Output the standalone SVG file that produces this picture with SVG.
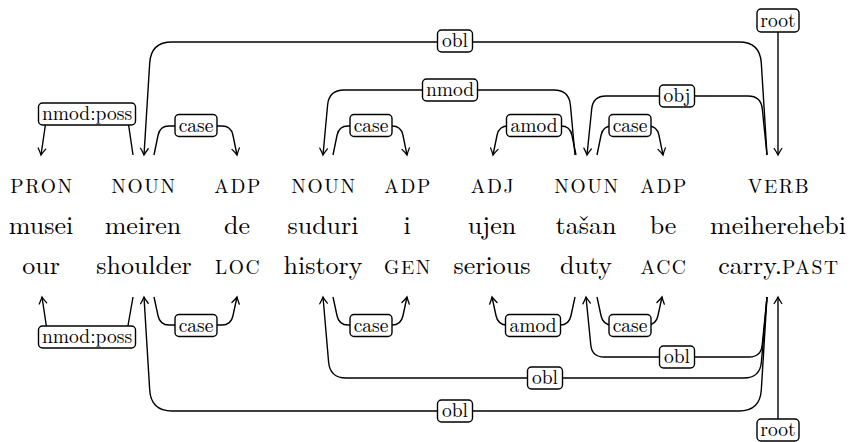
<svg xmlns="http://www.w3.org/2000/svg" width="850" height="442" viewBox="0 0 850 442">
  <style>
    .pos { font-size: 19.5px; letter-spacing: 1.6px; text-anchor: middle; fill: #000; }
    .word { font-size: 26px; text-anchor: middle; fill: #000; }
    .sc { font-size: 19.5px; letter-spacing: 1.6px; }
    .edge { fill: none; stroke: #000; stroke-width: 1.4; stroke-linejoin: round; }
    .lab rect { fill: #fff; stroke: #000; stroke-width: 1.4; }
    .lab text { font-size: 19.5px; text-anchor: middle; fill: #000; }
  </style>
  <defs>
    <marker id="arr" viewBox="-8 -5 10 10" refX="0" refY="0" markerWidth="10" markerHeight="10" markerUnits="userSpaceOnUse" orient="auto">
      <path d="M-6.5,-3.8 Q-2.2,-1 0,0 Q-2.2,1 -6.5,3.8" fill="none" stroke="#000" stroke-width="1.3" stroke-linecap="round"/>
    </marker>
  </defs>

  <rect width="850" height="442" fill="#fff"/>

  <!-- tokens: POS tag, word form, gloss -->
  <g id="w1">
    <text class="pos" x="42" y="193" style="font-family:'Latin Modern Roman','Liberation Serif',serif">PRON</text>
    <text class="word" x="41" y="234" style="font-family:'Latin Modern Roman','Liberation Serif',serif">musei</text>
    <text class="word" x="41" y="274" style="font-family:'Latin Modern Roman','Liberation Serif',serif">our</text>
  </g>
  <g id="w2">
    <text class="pos" x="144" y="193" style="font-family:'Latin Modern Roman','Liberation Serif',serif">NOUN</text>
    <text class="word" x="143" y="234" style="font-family:'Latin Modern Roman','Liberation Serif',serif">meiren</text>
    <text class="word" x="144" y="274" style="font-family:'Latin Modern Roman','Liberation Serif',serif">shoulder</text>
  </g>
  <g id="w3">
    <text class="pos" x="238" y="193" style="font-family:'Latin Modern Roman','Liberation Serif',serif">ADP</text>
    <text class="word" x="237" y="234" style="font-family:'Latin Modern Roman','Liberation Serif',serif">de</text>
    <text class="word sc" x="238" y="274" style="font-family:'Latin Modern Roman','Liberation Serif',serif">LOC</text>
  </g>
  <g id="w4">
    <text class="pos" x="324" y="193" style="font-family:'Latin Modern Roman','Liberation Serif',serif">NOUN</text>
    <text class="word" x="323" y="234" style="font-family:'Latin Modern Roman','Liberation Serif',serif">suduri</text>
    <text class="word" x="323" y="274" style="font-family:'Latin Modern Roman','Liberation Serif',serif">history</text>
  </g>
  <g id="w5">
    <text class="pos" x="408" y="193" style="font-family:'Latin Modern Roman','Liberation Serif',serif">ADP</text>
    <text class="word" x="407" y="234" style="font-family:'Latin Modern Roman','Liberation Serif',serif">i</text>
    <text class="word sc" x="408" y="274" style="font-family:'Latin Modern Roman','Liberation Serif',serif">GEN</text>
  </g>
  <g id="w6">
    <text class="pos" x="493" y="193" style="font-family:'Latin Modern Roman','Liberation Serif',serif">ADJ</text>
    <text class="word" x="492" y="234" style="font-family:'Latin Modern Roman','Liberation Serif',serif">ujen</text>
    <text class="word" x="492" y="274" style="font-family:'Latin Modern Roman','Liberation Serif',serif">serious</text>
  </g>
  <g id="w7">
    <text class="pos" x="587" y="193" style="font-family:'Latin Modern Roman','Liberation Serif',serif">NOUN</text>
    <text class="word" x="586" y="234" style="font-family:'Latin Modern Roman','Liberation Serif',serif">tašan</text>
    <text class="word" x="586" y="274" style="font-family:'Latin Modern Roman','Liberation Serif',serif">duty</text>
  </g>
  <g id="w8">
    <text class="pos" x="664" y="193" style="font-family:'Latin Modern Roman','Liberation Serif',serif">ADP</text>
    <text class="word" x="663" y="234" style="font-family:'Latin Modern Roman','Liberation Serif',serif">be</text>
    <text class="word sc" x="664" y="274" style="font-family:'Latin Modern Roman','Liberation Serif',serif">ACC</text>
  </g>
  <g id="w9">
    <text class="pos" x="779" y="193" style="font-family:'Latin Modern Roman','Liberation Serif',serif">VERB</text>
    <text class="word" x="778" y="234" style="font-family:'Latin Modern Roman','Liberation Serif',serif">meiherehebi</text>
    <text class="word" x="779" y="274" style="font-family:'Latin Modern Roman','Liberation Serif',serif">carry.<tspan class="sc">PAST</tspan></text>
  </g>

  <!-- dependency arcs: above and below the sentence -->
  <g id="edges">
    <g id="e-obl-top">
      <path class="edge" marker-end="url(#arr)" d="M767,155 L761.3,63 Q760,42 739,42 L172,42 Q151,42 149.7,63 L144,155"/>
      <g class="lab"><rect x="437.5" y="30" width="35" height="22" rx="4"/><text x="455" y="47" style="font-family:'Latin Modern Roman','Liberation Serif',serif">obl</text></g>
    </g>
    <g id="e-nmod-top">
      <path class="edge" marker-end="url(#arr)" d="M575,155 L570.4,105 Q569,90 554,90 L344,90 Q329,90 327.6,105 L323,155"/>
      <g class="lab"><rect x="422.5" y="79" width="55" height="22" rx="4"/><text x="450" y="96" style="font-family:'Latin Modern Roman','Liberation Serif',serif">nmod</text></g>
    </g>
    <g id="e-obj-top">
      <path class="edge" marker-end="url(#arr)" d="M767,155 L762.3,109 Q761,96 748,96 L606,96 Q593,96 591.7,109 L587,155"/>
      <g class="lab"><rect x="659.5" y="85" width="35" height="22" rx="4"/><text x="677" y="102" style="font-family:'Latin Modern Roman','Liberation Serif',serif">obj</text></g>
    </g>
    <g id="e-nmodposs-top">
      <path class="edge" marker-end="url(#arr)" d="M133,155 L127,114 L47,114 L41,155"/>
      <g class="lab"><rect x="38.5" y="103" width="97" height="22" rx="4"/><text x="87" y="120" style="font-family:'Latin Modern Roman','Liberation Serif',serif">nmod:poss</text></g>
    </g>
    <g id="e-case1-top">
      <path class="edge" marker-end="url(#arr)" d="M154,155 L158.1,135 Q160,126 169,126 L222,126 Q231,126 232.9,135 L237,155"/>
      <g class="lab"><rect x="175" y="114.5" width="42" height="22" rx="4"/><text x="196" y="131.5" style="font-family:'Latin Modern Roman','Liberation Serif',serif">case</text></g>
    </g>
    <g id="e-case2-top">
      <path class="edge" marker-end="url(#arr)" d="M333,155 L337.1,135 Q339,126 348,126 L392,126 Q401,126 402.9,135 L407,155"/>
      <g class="lab"><rect x="350" y="114.5" width="42" height="22" rx="4"/><text x="371" y="131.5" style="font-family:'Latin Modern Roman','Liberation Serif',serif">case</text></g>
    </g>
    <g id="e-amod-top">
      <path class="edge" marker-end="url(#arr)" d="M576,155 L571.9,135 Q570,126 561,126 L508,126 Q499,126 497.1,135 L493,155"/>
      <g class="lab"><rect x="506.5" y="114.5" width="55" height="22" rx="4"/><text x="534" y="131.5" style="font-family:'Latin Modern Roman','Liberation Serif',serif">amod</text></g>
    </g>
    <g id="e-case3-top">
      <path class="edge" marker-end="url(#arr)" d="M597,155 L601.1,135 Q603,126 612,126 L648,126 Q657,126 658.9,135 L663,155"/>
      <g class="lab"><rect x="609" y="114.5" width="42" height="22" rx="4"/><text x="630" y="131.5" style="font-family:'Latin Modern Roman','Liberation Serif',serif">case</text></g>
    </g>
    <g id="e-root-top">
      <path class="edge" marker-end="url(#arr)" d="M778,32 L778,155"/>
      <g class="lab"><rect x="757" y="9" width="42" height="23" rx="4"/><text x="778" y="26.5" style="font-family:'Latin Modern Roman','Liberation Serif',serif">root</text></g>
    </g>

    <g id="e-obl1-bot">
      <path class="edge" marker-end="url(#arr)" d="M767,297 L761.3,390 Q760,411 739,411 L172,411 Q151,411 149.7,390 L144,297"/>
      <g class="lab"><rect x="437.5" y="400" width="35" height="22" rx="4"/><text x="455" y="417" style="font-family:'Latin Modern Roman','Liberation Serif',serif">obl</text></g>
    </g>
    <g id="e-obl2-bot">
      <path class="edge" marker-end="url(#arr)" d="M767,297 L761.4,362 Q760,378 744,378 L346,378 Q330,378 328.6,362 L323,297"/>
      <g class="lab"><rect x="527.5" y="367" width="35" height="22" rx="4"/><text x="545" y="384" style="font-family:'Latin Modern Roman','Liberation Serif',serif">obl</text></g>
    </g>
    <g id="e-obl3-bot">
      <path class="edge" marker-end="url(#arr)" d="M767,297 L762.2,345 Q761,357 749,357 L604,357 Q592,357 590.8,345 L586,297"/>
      <g class="lab"><rect x="659.5" y="346" width="35" height="22" rx="4"/><text x="677" y="363" style="font-family:'Latin Modern Roman','Liberation Serif',serif">obl</text></g>
    </g>
    <g id="e-nmodposs-bot">
      <path class="edge" marker-end="url(#arr)" d="M133,297 L126,337 L48,337 L42,297"/>
      <g class="lab"><rect x="38.5" y="326" width="97" height="22" rx="4"/><text x="87" y="343" style="font-family:'Latin Modern Roman','Liberation Serif',serif">nmod:poss</text></g>
    </g>
    <g id="e-case1-bot">
      <path class="edge" marker-end="url(#arr)" d="M154,297 L158.1,316 Q160,325 169,325 L222,325 Q231,325 232.9,316 L237,297"/>
      <g class="lab"><rect x="175" y="314.5" width="42" height="22" rx="4"/><text x="196" y="331.5" style="font-family:'Latin Modern Roman','Liberation Serif',serif">case</text></g>
    </g>
    <g id="e-case2-bot">
      <path class="edge" marker-end="url(#arr)" d="M333,297 L337.1,316 Q339,325 348,325 L392,325 Q401,325 402.9,316 L407,297"/>
      <g class="lab"><rect x="350" y="314.5" width="42" height="22" rx="4"/><text x="371" y="331.5" style="font-family:'Latin Modern Roman','Liberation Serif',serif">case</text></g>
    </g>
    <g id="e-amod-bot">
      <path class="edge" marker-end="url(#arr)" d="M575,297 L570.9,316 Q569,325 560,325 L507,325 Q498,325 496.1,316 L492,297"/>
      <g class="lab"><rect x="505.5" y="314.5" width="55" height="22" rx="4"/><text x="533" y="331.5" style="font-family:'Latin Modern Roman','Liberation Serif',serif">amod</text></g>
    </g>
    <g id="e-case3-bot">
      <path class="edge" marker-end="url(#arr)" d="M597,297 L601.1,316 Q603,325 612,325 L647,325 Q656,325 657.9,316 L662,297"/>
      <g class="lab"><rect x="609" y="314.5" width="42" height="22" rx="4"/><text x="630" y="331.5" style="font-family:'Latin Modern Roman','Liberation Serif',serif">case</text></g>
    </g>
    <g id="e-root-bot">
      <path class="edge" marker-end="url(#arr)" d="M778,419 L778,297"/>
      <g class="lab"><rect x="757" y="419" width="42" height="22" rx="4"/><text x="778" y="436" style="font-family:'Latin Modern Roman','Liberation Serif',serif">root</text></g>
    </g>
  </g>
</svg>
